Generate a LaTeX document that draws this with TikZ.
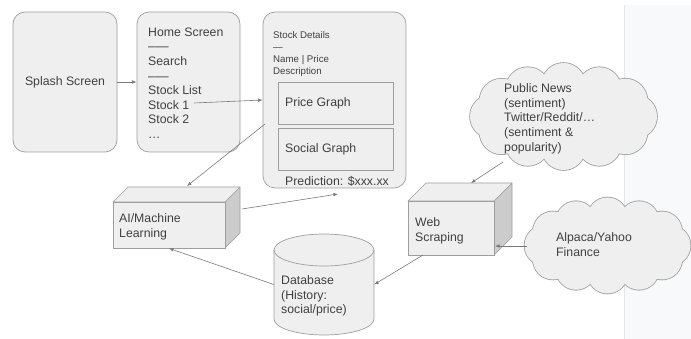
\documentclass[tikz,border=0pt]{standalone}
\usepackage{fontspec}
\setmainfont{Liberation Sans}
\usetikzlibrary{arrows.meta}
\definecolor{boxfill}{HTML}{EFEFEF}
\definecolor{boxline}{HTML}{9E9E9E}
\definecolor{sidefill}{HTML}{CCCCCC}
\definecolor{txt}{HTML}{404040}
\definecolor{arr}{HTML}{7A7A7A}
\definecolor{panel}{HTML}{F8F9FB}
\definecolor{panelline}{HTML}{E3E5E8}
\begin{document}
\begin{tikzpicture}[x=1pt,y=-1pt,
  every node/.style={text=txt, font=\fontsize{12.3}{14.6}\selectfont},
  screen/.style={draw=boxline, fill=boxfill, rounded corners=12pt, line width=0.7pt, inner sep=0},
  inbox/.style={draw=boxline, line width=0.7pt, inner sep=0},
  txtblock/.style={inner sep=0, align=left, anchor=north west},
  txtline/.style={inner sep=0, anchor=west},
  small/.style={font=\fontsize{9.7}{12}\selectfont},
  conn/.style={draw=arr, line width=0.6pt, -{Latex[length=4.5pt,width=3.5pt]}},
  face/.style={draw=boxline, line width=0.7pt, fill=boxfill, line join=round},
  side/.style={draw=boxline, line width=0.7pt, fill=sidefill, line join=round},
  frontbox/.style={draw=boxline, fill=boxfill, line width=0.7pt, inner sep=0},
  puffline/.style={draw=boxline, line width=1.6pt},
  pufffill/.style={fill=boxfill}
]
\useasboundingbox (0,0) rectangle (691,339);
\fill[panel] (624,5) rectangle (691,339);
\draw[panelline, line width=0.6pt] (624,5) -- (624,339);

% Splash
\node[screen, minimum width=104, minimum height=140] (splash) at (65,82) {Splash Screen};

% Home
\node[screen, minimum width=103, minimum height=140] (home) at (188.5,82) {};
\node[txtblock] (hometxt) at (148,27.6) {Home Screen\\–––\\Search\\–––\\Stock List\\Stock 1\\Stock 2\\…};
\coordinate (s1) at (194,103);

% Details
\node[screen, minimum width=143, minimum height=176] (det) at (334.5,100) {};
\node[txtblock, small] (dettxt) at (273,31.5) {Stock Details\\—\\Name | Price\\Description};
\node[inbox, minimum width=115, minimum height=42] (price) at (335.5,103) {};
\node[txtline] (pricetxt) at (285,103) {Price Graph};
\node[inbox, minimum width=115, minimum height=42] (social) at (335.5,149) {};
\node[txtline] (socialtxt) at (285,149) {Social Graph};
\node[inner sep=0] (pred) at (337,181) {Prediction: \$xxx.xx};

% AI cuboid
\path[side] (225,202) -- (240,187) -- (240,233) -- (225,248) -- cycle;
\path[face] (113,202) -- (128,187) -- (240,187) -- (225,202) -- cycle;
\node[frontbox, minimum width=112, minimum height=46] (ai) at (169,225) {};
\node[txtblock] (aitxt) at (119,213.6) {AI/Machine\\Learning};

% Web scraping cuboid
\path[side] (494,201) -- (512,183) -- (512,237) -- (494,255) -- cycle;
\path[face] (408,201) -- (426,183) -- (512,183) -- (494,201) -- cycle;
\node[frontbox, minimum width=86, minimum height=54] (web) at (451,228) {};
\node[txtblock] (webtxt) at (415,217.6) {Web\\Scraping};

% Database cylinder
\path[face] (274,250) -- (274,319) arc[start angle=180,end angle=0,x radius=50,y radius=16] -- (374,250) arc[start angle=0,end angle=-180,x radius=50,y radius=16] -- cycle;
\draw[boxline, line width=0.7pt] (274,250) arc[start angle=180,end angle=0,x radius=50,y radius=16];
\node[inner sep=0, minimum width=100, minimum height=103] (db) at (324,284.5) {};
\node[txtblock] (dbtxt) at (281,275.6) {Database\\(History:\\social/price)};

% Public News cloud (union of puffs)
\node[inner sep=0, minimum width=187, minimum height=107] (pub) at (563.5,116.5) {};
\foreach \a in {0,30,...,330}
  \path[puffline] ([shift={(\a:71.5 and 31.5)}]pub.center) circle[radius=22];
\foreach \a in {0,30,...,330}
  \path[pufffill] ([shift={(\a:71.5 and 31.5)}]pub.center) circle[radius=22];
\fill[boxfill] (pub.center) ellipse[x radius=74, y radius=34];
\node[txtblock] (pubtxt) at (504,83.6) {Public News\\(sentiment)\\Twitter/Reddit/…\\(sentiment \&\\popularity)};

% Alpaca cloud
\node[inner sep=0, minimum width=166, minimum height=96] (alp) at (607.5,245.5) {};
\foreach \a in {0,30,...,330}
  \path[puffline] ([shift={(\a:63 and 28)}]alp.center) circle[radius=20];
\foreach \a in {0,30,...,330}
  \path[pufffill] ([shift={(\a:63 and 28)}]alp.center) circle[radius=20];
\fill[boxfill] (alp.center) ellipse[x radius=65, y radius=30];
\node[txtblock] (alptxt) at (556,232.6) {Alpaca/Yahoo\\Finance};

% connector end points
\coordinate (d1) at (265,124);
\coordinate (aitop) at (187,186);
\coordinate (aiside) at (242,209);
\coordinate (detbot) at (338,194);
\coordinate (webbot) at (423,255);
\coordinate (pubbot) at (503,162);
\coordinate (webtop) at (471,183);
\coordinate (alpleft) at (527,246);
\coordinate (webside) at (495,246);

% Connectors
\draw[conn] (splash) -- (home);
\draw[conn] (s1) -- (det.west);
\draw[conn] (d1) -- (aitop);
\draw[conn] (aiside) -- (detbot);
\draw[conn] (db.west) -- (ai.south);
\draw[conn] (webbot) -- (db.east);
\draw[conn] (pubbot) -- (webtop);
\draw[conn] (alpleft) -- (webside);
\end{tikzpicture}
\end{document}
